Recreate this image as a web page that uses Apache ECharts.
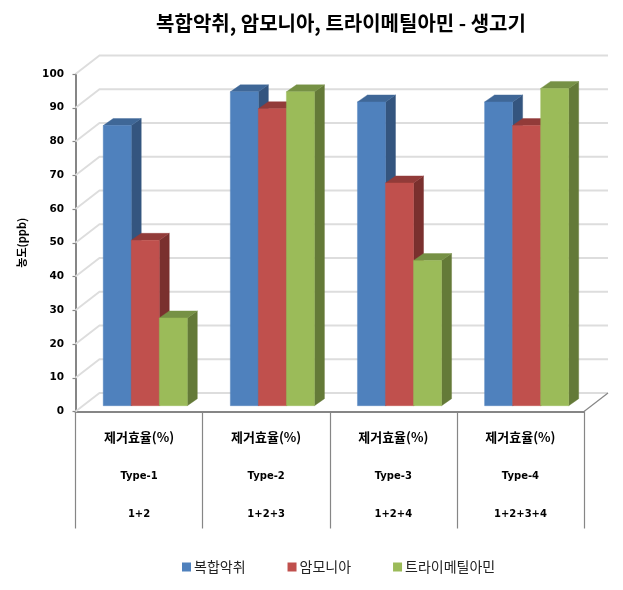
<!DOCTYPE html>
<html><head><meta charset="utf-8">
<style>html,body{margin:0;padding:0;background:#fff}#c{width:623px;height:590px}</style>
<script src="https://cdn.jsdelivr.net/npm/echarts@6/dist/echarts.min.js"></script>
</head><body><div id="c"></div>
<script>
const titleText = '복합악취, 암모니아, 트라이메틸아민 - 생고기';
const yName = '농도(ppb)';
const row1 = ['제거효율(%)', '제거효율(%)', '제거효율(%)', '제거효율(%)'];
const row2 = ['Type-1', 'Type-2', 'Type-3', 'Type-4'];
const row3 = ['1+2', '1+2+3', '1+2+4', '1+2+3+4'];
const yTicks = [0, 10, 20, 30, 40, 50, 60, 70, 80, 90, 100];
const seriesNames = ['복합악취', '암모니아', '트라이메틸아민'];
const odor = [83, 93, 90, 90];
const ammonia = [49, 88, 66, 83];
const tma = [26, 93, 43, 94];
const seriesValues = [odor, ammonia, tma];
const fronts = ['#4F81BD', '#C0504D', '#9BBB59'];
const sides = ['#34557F', '#7A302E', '#647A38'];
const tops = ['#3F6797', '#923B39', '#769145'];

const cats = row1.map((_, i) => i + '');
const latin = '"DejaVu Sans","Noto Sans CJK KR",sans-serif';
const cjk = '"Noto Sans CJK KR","DejaVu Sans",sans-serif';
const WALL_X = 24, WALL_Y = -18.5, BAR_DX = 6.2, BAR_DY = -5.8, SIDE_X = 10, SIDE_Y = -7;

function wallItem(params, api) {
  const v = api.value(0);
  const band = api.size([1, 0])[0];
  const y = api.coord([0, v])[1];
  const xl = api.coord([0, v])[0] - band / 2;
  const xr = api.coord([3, v])[0] + band / 2;
  const children = [{
    type: 'polyline', silent: true,
    shape: { points: [[xl, y], [xl + WALL_X, y + WALL_Y], [xr + WALL_X, y + WALL_Y]] },
    style: { fill: 'none', stroke: '#DDDDDD', lineWidth: 1.8 }
  }];
  if (v === 0) children.push({
    type: 'line', silent: true,
    shape: { x1: xr, y1: y, x2: xr + WALL_X, y2: y + WALL_Y },
    style: { stroke: '#868686', lineWidth: 1.2 }
  });
  return { type: 'group', children };
}

function barItem(si) {
  return function (params, api) {
    const c = api.value(0), v = api.value(1);
    const band = api.size([1, 0])[0];
    const w = band * 0.2205;
    const p1 = api.coord([c, v]);
    const p0 = api.coord([c, 0]);
    const x0 = p1[0] - 1.5 * w + si * w + BAR_DX;
    const x1 = x0 + w;
    const yt = p1[1] + BAR_DY, yb = p0[1] + BAR_DY;
    const poly = (pts, fill) => ({ type: 'polygon', silent: true, shape: { points: pts },
      style: { fill, stroke: fill, lineWidth: 0.4 } });
    return { type: 'group', children: [
      poly([[x1, yt], [x1 + SIDE_X, yt + SIDE_Y], [x1 + SIDE_X, yb + SIDE_Y], [x1, yb]], sides[si]),
      poly([[x0, yt], [x0 + SIDE_X, yt + SIDE_Y], [x1 + SIDE_X, yt + SIDE_Y], [x1, yt]], tops[si]),
      poly([[x0, yt], [x1, yt], [x1, yb], [x0, yb]], fronts[si])
    ]};
  };
}

const chart = echarts.init(document.getElementById('c'), null, { renderer: 'canvas' });
chart.setOption({
  animation: false,
  backgroundColor: '#fff',
  title: {
    text: titleText, left: 336, top: 8, textAlign: 'center',
    textStyle: { fontFamily: cjk, fontWeight: 'bold', fontSize: 20, color: '#000' }
  },
  grid: { left: 75.5, right: 39, top: 74, height: 337.5 },
  legend: {
    data: seriesNames, left: 177, top: 555, itemWidth: 9, itemHeight: 9, itemGap: 42, icon: 'rect',
    textStyle: { fontFamily: cjk, fontSize: 14, color: '#222', padding: [0, 0, 0, -2] }
  },
  xAxis: {
    type: 'category', data: cats, boundaryGap: true,
    axisLine: { lineStyle: { color: '#868686', width: 2 } },
    axisTick: { show: true, length: 117, lineStyle: { color: '#868686', width: 1.2 } },
    axisLabel: {
      margin: 6, interval: 0,
      formatter: (v, i) => `{a|${row1[i]}}\n{b|${row2[i]}}\n{c|${row3[i]}}`,
      rich: {
        a: { fontFamily: cjk, fontWeight: 'bold', fontSize: 13, color: '#000', lineHeight: 40 },
        b: { fontFamily: latin, fontWeight: 'bold', fontSize: 10, color: '#000', lineHeight: 38 },
        c: { fontFamily: latin, fontWeight: 'bold', fontSize: 10, color: '#000', lineHeight: 37 }
      }
    },
    splitLine: { show: false }
  },
  yAxis: {
    type: 'value', min: 0, max: 100, interval: 10,
    name: yName, nameLocation: 'middle', nameGap: 48, nameRotate: 90,
    nameTextStyle: { fontFamily: cjk, fontWeight: 'bold', fontSize: 11, color: '#000' },
    axisLine: { show: true, lineStyle: { color: '#868686', width: 2 } },
    axisTick: { show: true, length: 3, lineStyle: { color: '#868686', width: 1.2 } },
    axisLabel: { margin: 11.5, fontFamily: latin, fontWeight: 'bold', fontSize: 10.5, color: '#000' },
    splitLine: { show: false }
  },
  series: [
    { type: 'custom', silent: true, z: 1, renderItem: wallItem,
      data: yTicks.map(v => [v]), encode: { y: 0 } },
    ...seriesNames.map((name, si) => ({
      type: 'custom', name, silent: true, z: 2 + si, renderItem: barItem(si),
      itemStyle: { color: fronts[si] },
      data: seriesValues[si].map((v, i) => [i, v]), encode: { x: 0, y: 1 }
    }))
  ]
});
</script></body></html>
